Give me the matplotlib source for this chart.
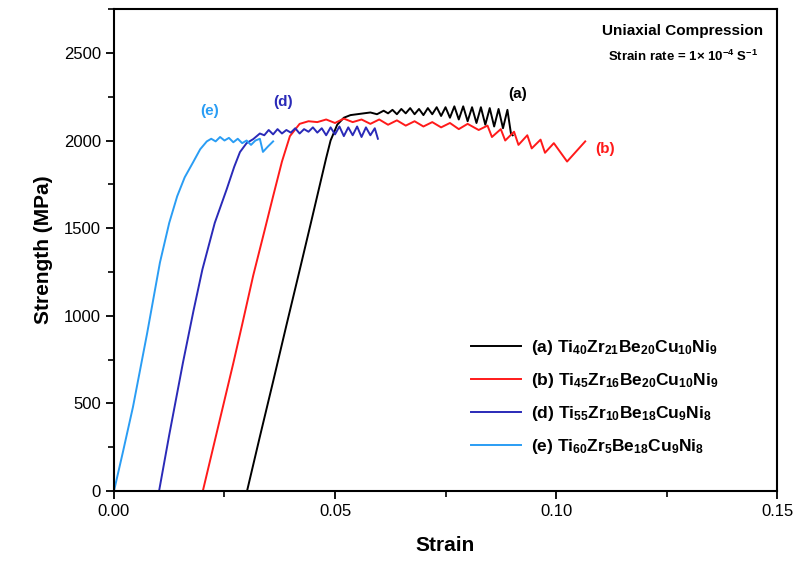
import matplotlib.pyplot as plt
from matplotlib.ticker import MultipleLocator

plt.rcParams['font.family'] = 'Liberation Sans'
plt.rcParams['mathtext.fontset'] = 'custom'
plt.rcParams['mathtext.rm'] = 'Liberation Sans:bold'
plt.rcParams['mathtext.bf'] = 'Liberation Sans:bold'
plt.rcParams['mathtext.default'] = 'bf'

# (a) Ti40Zr21Be20Cu10Ni9
strain_a = [0.0301, 0.033, 0.036, 0.039, 0.042, 0.0445, 0.0466, 0.048, 0.049,
            0.0505, 0.052, 0.0535, 0.055, 0.0565, 0.058, 0.0595, 0.061, 0.062,
            0.063, 0.064, 0.065, 0.066, 0.067, 0.068, 0.069, 0.070, 0.071, 0.072,
            0.073, 0.074, 0.075, 0.076, 0.077, 0.078, 0.079, 0.080, 0.081, 0.082,
            0.083, 0.084, 0.085, 0.086, 0.087, 0.088, 0.089, 0.0898, 0.0902]
stress_a = [0, 310, 625, 945, 1260, 1525, 1750, 1900, 2000,
            2090, 2130, 2145, 2150, 2155, 2160, 2150, 2170, 2155,
            2175, 2150, 2180, 2155, 2185, 2150, 2180, 2145, 2185, 2150,
            2190, 2140, 2190, 2130, 2195, 2120, 2195, 2110, 2190, 2100,
            2190, 2090, 2185, 2080, 2180, 2070, 2175, 2040, 2030]

# (b) Ti45Zr16Be20Cu10Ni9
strain_b = [0.0201, 0.0235, 0.027, 0.029, 0.0315, 0.034, 0.036, 0.038, 0.0398,
            0.042, 0.044, 0.046, 0.048, 0.050, 0.052, 0.054, 0.056, 0.058, 0.060,
            0.062, 0.064, 0.066, 0.068, 0.070, 0.072, 0.074, 0.076, 0.078, 0.080,
            0.0825, 0.0845, 0.0855, 0.0875, 0.0885, 0.0905, 0.0915, 0.0935, 0.0945,
            0.0965, 0.0975, 0.0995, 0.1025, 0.1066]
stress_b = [0, 360, 730, 950, 1230, 1480, 1682, 1880, 2025,
            2095, 2110, 2105, 2120, 2100, 2125, 2105, 2120, 2095, 2120,
            2090, 2115, 2085, 2110, 2080, 2105, 2075, 2100, 2065, 2095,
            2060, 2085, 2020, 2065, 2000, 2050, 1975, 2030, 1955,
            2005, 1930, 1985, 1880, 1995]

# (d) Ti55Zr10Be18Cu9Ni8
strain_d = [0.0102, 0.0125, 0.0156, 0.018, 0.020, 0.0228, 0.0255, 0.0272, 0.0285,
            0.030, 0.0315, 0.033, 0.034, 0.035, 0.036, 0.037, 0.038, 0.039, 0.040,
            0.041, 0.042, 0.043, 0.044, 0.045, 0.046, 0.047, 0.048, 0.049, 0.050,
            0.051, 0.052, 0.053, 0.054, 0.055, 0.056, 0.057, 0.058, 0.059, 0.0597]
stress_d = [0, 320, 732, 1030, 1264, 1530, 1722, 1850, 1934,
            1985, 2008, 2040, 2030, 2060, 2035, 2065, 2040, 2060, 2045,
            2070, 2040, 2065, 2050, 2075, 2045, 2070, 2030, 2075, 2035,
            2080, 2025, 2075, 2030, 2080, 2020, 2075, 2030, 2070, 2010]

# (e) Ti60Zr5Be18Cu9Ni8
strain_e = [0, 0.002, 0.0043, 0.0075, 0.0104, 0.0125, 0.0143, 0.016, 0.0179,
            0.0195, 0.021, 0.022, 0.023, 0.024, 0.025, 0.026, 0.027, 0.028,
            0.029, 0.030, 0.031, 0.032, 0.033, 0.0337, 0.0348, 0.036]
stress_e = [0, 220, 480, 900, 1304, 1530, 1682, 1790, 1876,
            1950, 1995, 2010, 1995, 2020, 2000, 2015, 1990, 2010,
            1985, 2000, 1975, 2000, 2010, 1935, 1965, 1995]

labels = [r'(a) Ti$_{40}$Zr$_{21}$Be$_{20}$Cu$_{10}$Ni$_{9}$',
          r'(b) Ti$_{45}$Zr$_{16}$Be$_{20}$Cu$_{10}$Ni$_{9}$',
          r'(d) Ti$_{55}$Zr$_{10}$Be$_{18}$Cu$_{9}$Ni$_{8}$',
          r'(e) Ti$_{60}$Zr$_{5}$Be$_{18}$Cu$_{9}$Ni$_{8}$']
colors = ['black', '#ff1a1a', '#2a2ab8', '#2a9df4']

fig = plt.figure(figsize=(7.97, 5.67), dpi=100)
ax = fig.add_axes([0.143, 0.134, 0.832, 0.850])

series = [(strain_a, stress_a), (strain_b, stress_b),
          (strain_d, stress_d), (strain_e, stress_e)]
for (x, y), lab, c in zip(series, labels, colors):
    ax.plot(x, y, color=c, lw=1.4, label=lab)

# curve tags
tag_kw = dict(fontsize=11, fontweight='bold', ha='center', va='center')
ax.text(0.0912, 2265, '(a)', color=colors[0], **tag_kw)
ax.text(0.1110, 1950, '(b)', color=colors[1], **tag_kw)
ax.text(0.0382, 2219, '(d)', color=colors[2], **tag_kw)
ax.text(0.0217, 2168, '(e)', color=colors[3], **tag_kw)

ax.text(0.1287, 2625, 'Uniaxial Compression', fontsize=11, fontweight='bold',
        ha='center', va='center')
ax.text(0.1287, 2482, r'Strain rate = 1$\times$ 10$^{-4}$ S$^{-1}$', fontsize=9.5,
        fontweight='bold', ha='center', va='center')

ax.set_xlim(0, 0.15)
ax.set_ylim(0, 2750)
ax.xaxis.set_major_locator(MultipleLocator(0.05))
ax.xaxis.set_minor_locator(MultipleLocator(0.025))
ax.yaxis.set_major_locator(MultipleLocator(500))
ax.yaxis.set_minor_locator(MultipleLocator(250))
ax.xaxis.set_major_formatter(plt.FormatStrFormatter('%.2f'))
ax.tick_params(which='major', length=6, width=1.3, labelsize=12, top=False, right=False)
ax.tick_params(which='minor', length=4, width=1.2, top=False, right=False)
for s in ax.spines.values():
    s.set_linewidth(1.5)

ax.set_xlabel('Strain', fontsize=15, fontweight='bold', labelpad=12)
ax.set_ylabel('Strength (MPa)', fontsize=15, fontweight='bold', labelpad=8)

leg = ax.legend(loc='upper left', bbox_to_anchor=(0.515, 0.35), frameon=False,
                prop={'size': 12.5, 'weight': 'bold'}, handlelength=2.9,
                handletextpad=0.55, labelspacing=0.8)

fig.savefig('out.png', dpi=100)
